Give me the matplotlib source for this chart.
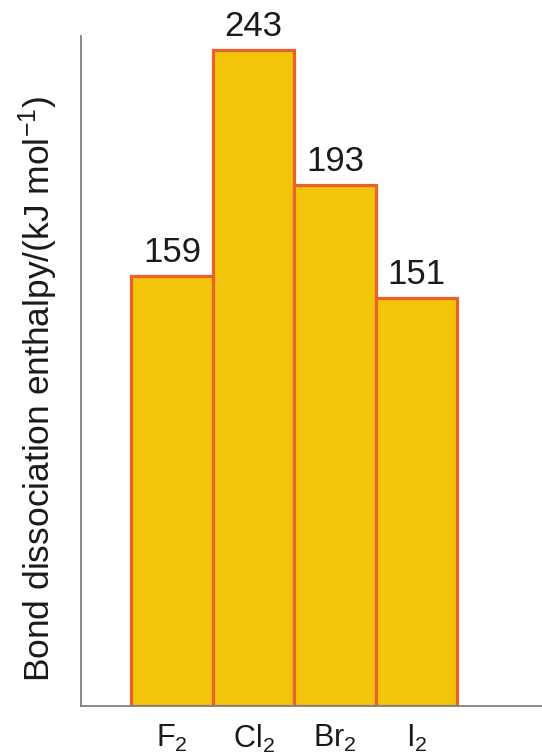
import matplotlib
matplotlib.use("Agg")
import matplotlib.pyplot as plt

categories = [r"F$_2$", r"Cl$_2$", r"Br$_2$", r"I$_2$"]
values = [159, 243, 193, 151]
ylabel = r"Bond dissociation enthalpy/(kJ mol$^{-1}$)"

plt.rcParams['font.family'] = ['Liberation Sans', 'DejaVu Sans']
plt.rcParams['mathtext.fontset'] = 'custom'
plt.rcParams['mathtext.rm'] = 'Liberation Sans'
plt.rcParams['mathtext.it'] = 'Liberation Sans'
plt.rcParams['mathtext.default'] = 'regular'

fig = plt.figure(figsize=(5.42, 7.56), dpi=100)
ax = fig.add_axes([81/542, 50/756, 1 - 81/542, 670/756])

x = list(range(len(categories)))
bars = ax.bar(x, values, width=1.0, color="#F2C50A", edgecolor="#E8622A", linewidth=2.3)
ax.set_xlim(-1.117, 4.54)
ax.set_ylim(0, 248)

for xi, v in zip(x, values):
    ax.annotate(str(v), (xi, v), xytext=(0, 5), textcoords="offset points",
                ha="center", va="bottom", fontsize=25, color="#1a1a1a")

ax.set_xticks(x)
ax.set_xticklabels(categories, fontsize=22, color="#1a1a1a")
ax.tick_params(axis="x", length=0, pad=12)
ax.set_yticks([])

for s in ["top", "right"]:
    ax.spines[s].set_visible(False)
for s in ["left", "bottom"]:
    ax.spines[s].set_color("#808080")
    ax.spines[s].set_linewidth(1.3)

ax.text(-0.093, 0.473, ylabel, transform=ax.transAxes, rotation=90,
        ha="center", va="center", fontsize=25.5, color="#1a1a1a")

fig.savefig("out.png", dpi=100)
